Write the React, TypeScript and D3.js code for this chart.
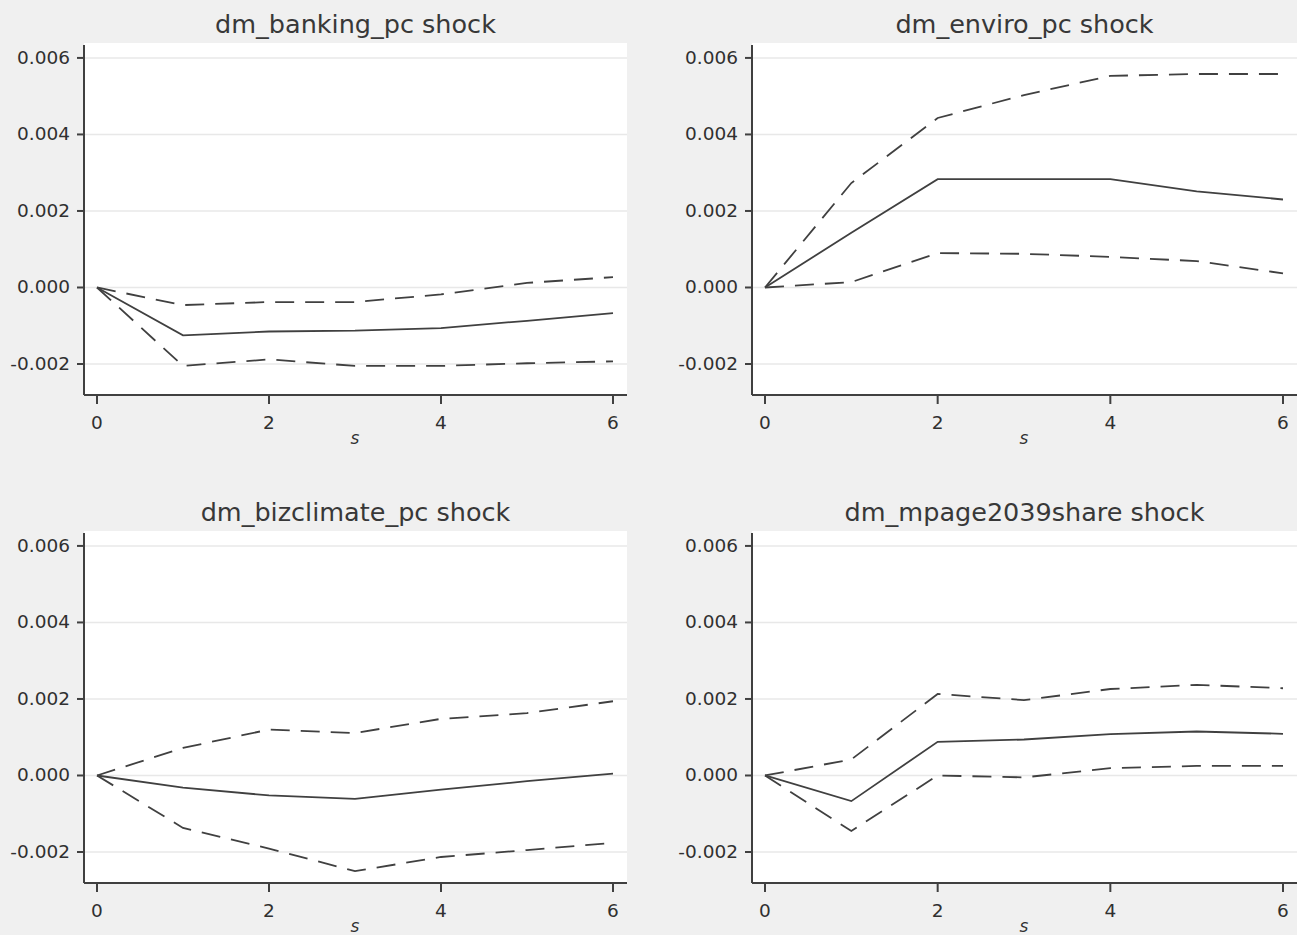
import React from "react";
import * as d3 from "d3";

// impulse response horizon
const steps = [0, 1, 2, 3, 4, 5, 6];
const yTicks = [-0.002, 0, 0.002, 0.004, 0.006];
const xTicks = [0, 2, 4, 6];

const titles = [
  "dm_banking_pc shock",
  "dm_enviro_pc shock",
  "dm_bizclimate_pc shock",
  "dm_mpage2039share shock",
];

// point estimates (solid) and confidence bands (dashed)
const bankingIrf = [0, -0.00125, -0.00115, -0.00113, -0.00106, -0.00087, -0.00067];
const bankingLo = [0, -0.00205, -0.00188, -0.00205, -0.00205, -0.00198, -0.00193];
const bankingHi = [0, -0.00046, -0.00038, -0.00038, -0.00018, 0.00012, 0.00027];

const enviroIrf = [0, 0.00143, 0.00283, 0.00283, 0.00283, 0.00251, 0.0023];
const enviroLo = [0, 0.00014, 0.0009, 0.00088, 0.0008, 0.00069, 0.00037];
const enviroHi = [0, 0.00273, 0.00443, 0.00503, 0.00553, 0.00558, 0.00558];

const bizIrf = [0, -0.00032, -0.00052, -0.00061, -0.00037, -0.00015, 0.00005];
const bizLo = [0, -0.00137, -0.00191, -0.0025, -0.00213, -0.00195, -0.00176];
const bizHi = [0, 0.00072, 0.0012, 0.00111, 0.00148, 0.00163, 0.00194];

const mpageIrf = [0, -0.00067, 0.00088, 0.00094, 0.00108, 0.00115, 0.00109];
const mpageLo = [0, -0.00145, 0, -0.00005, 0.00019, 0.00025, 0.00025];
const mpageHi = [0, 0.00042, 0.00213, 0.00197, 0.00226, 0.00237, 0.00228];

const panels = [
  { title: titles[0], irf: bankingIrf, lo: bankingLo, hi: bankingHi },
  { title: titles[1], irf: enviroIrf, lo: enviroLo, hi: enviroHi },
  { title: titles[2], irf: bizIrf, lo: bizLo, hi: bizHi },
  { title: titles[3], irf: mpageIrf, lo: mpageLo, hi: mpageHi },
];

const W = 1297;
const H = 935;
const FONT = "'DejaVu Sans', Verdana, sans-serif";
const INK = "#404040";

// plot boxes for each column / row
const cols = [
  { left: 84, right: 627 },
  { left: 752, right: 1297 },
];
const rows = [
  { top: 43, bottom: 395 },
  { top: 531, bottom: 883 },
];

const Panel = ({ panel, col, row }) => {
  const { left, right } = cols[col];
  const { top, bottom } = rows[row];

  const x = d3.scaleLinear().domain([0, 6]).range([left + 13, right - 14]);
  const y = d3.scaleLinear().domain([-0.00281, 0.00639]).range([bottom, top]);

  const line = d3
    .line<number>()
    .x((d, i) => x(steps[i]))
    .y((d) => y(d));

  const fmt = d3.format(".3f");

  return (
    <g>
      <rect x={left} y={top} width={right - left} height={bottom - top} fill="#fff" />
      {yTicks.map((t) => (
        <line
          key={"g" + t}
          x1={left}
          x2={right}
          y1={y(t)}
          y2={y(t)}
          stroke="#e8e8e8"
          strokeWidth={1.5}
        />
      ))}
      <text
        x={(left + right) / 2}
        y={top - 10}
        textAnchor="middle"
        fontFamily={FONT}
        fontSize={25.5}
        fill="#383838"
      >
        {panel.title}
      </text>

      {/* confidence bands */}
      <path d={line(panel.hi)} fill="none" stroke={INK} strokeWidth={1.8} strokeDasharray="19 11" />
      <path d={line(panel.lo)} fill="none" stroke={INK} strokeWidth={1.8} strokeDasharray="19 11" />
      <path d={line(panel.irf)} fill="none" stroke={INK} strokeWidth={1.8} />

      {/* axes */}
      <line x1={left} x2={left} y1={top + 2} y2={bottom} stroke={INK} strokeWidth={2} />
      <line x1={left} x2={right} y1={bottom} y2={bottom} stroke={INK} strokeWidth={2} />
      {yTicks.map((t) => (
        <g key={"y" + t}>
          <line x1={left - 7} x2={left} y1={y(t)} y2={y(t)} stroke={INK} strokeWidth={2} />
          <text
            x={left - 14}
            y={y(t) + 6}
            textAnchor="end"
            fontFamily={FONT}
            fontSize={18.5}
            fill="#303030"
          >
            {t < 0 ? "-" + fmt(-t) : fmt(t)}
          </text>
        </g>
      ))}
      {xTicks.map((t) => (
        <g key={"x" + t}>
          <line x1={x(t)} x2={x(t)} y1={bottom} y2={bottom + 9} stroke={INK} strokeWidth={2} />
          <text
            x={x(t)}
            y={bottom + 34}
            textAnchor="middle"
            fontFamily={FONT}
            fontSize={18.5}
            fill="#303030"
          >
            {t}
          </text>
        </g>
      ))}
      <text
        x={(x(0) + x(6)) / 2}
        y={bottom + 49}
        textAnchor="middle"
        fontFamily={FONT}
        fontSize={17}
        fontStyle="italic"
        fill="#303030"
      >
        s
      </text>
    </g>
  );
};

export default function App() {
  return (
    <svg
      width={W}
      height={H}
      style={{ position: "absolute", left: 0, top: 0, display: "block" }}
    >
      <rect width={W} height={H} fill="#f0f0f0" />
      {panels.map((p, i) => (
        <Panel key={p.title} panel={p} col={i % 2} row={Math.floor(i / 2)} />
      ))}
    </svg>
  );
}
